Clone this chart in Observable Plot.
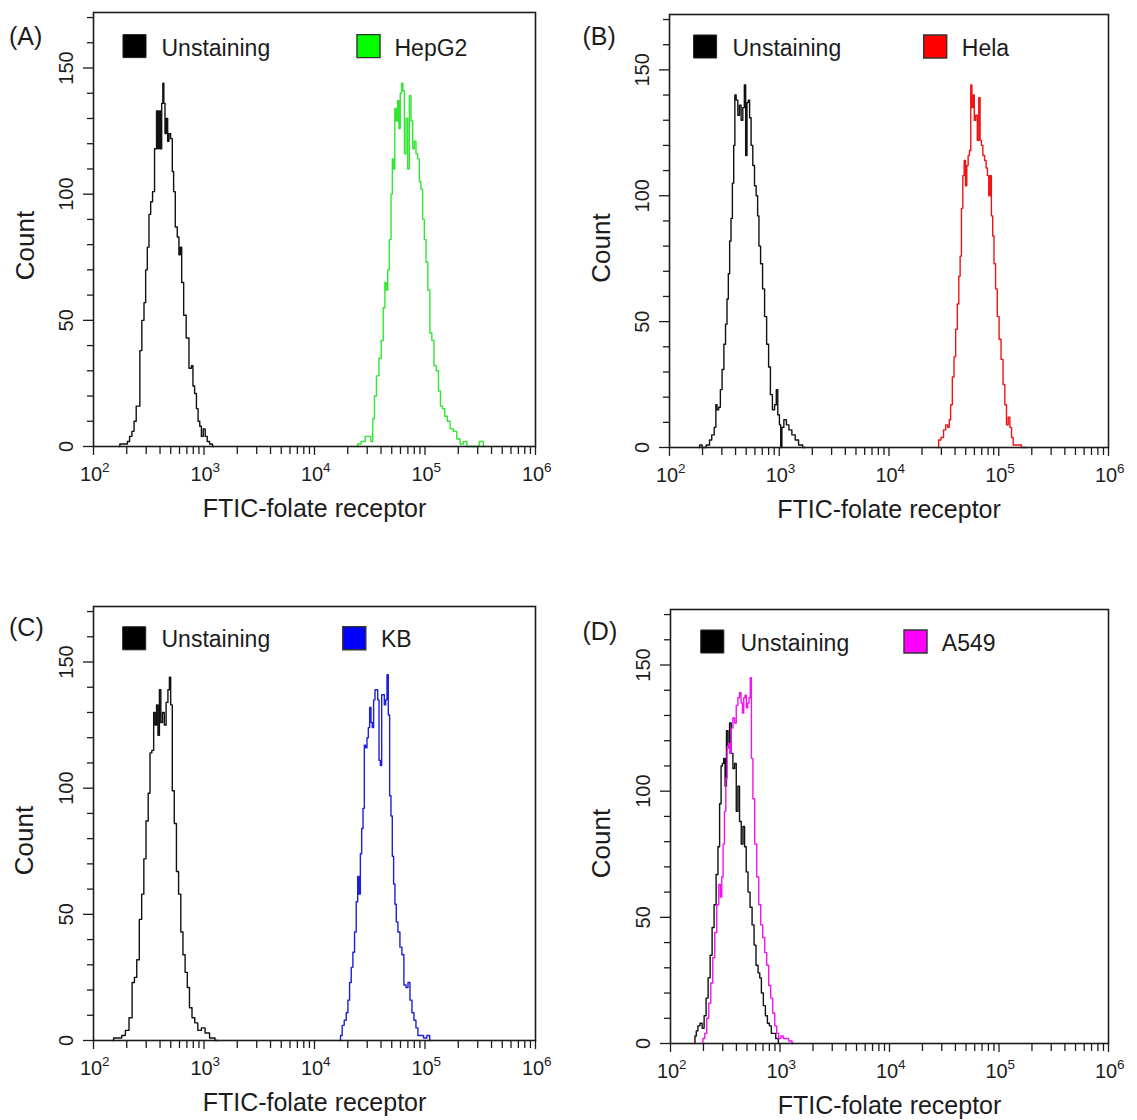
<!DOCTYPE html>
<html>
<head>
<meta charset="utf-8">
<script src="https://cdn.jsdelivr.net/npm/d3@7"></script>
<script src="https://cdn.jsdelivr.net/npm/@observablehq/plot@0.6"></script>
<style>
  html, body { margin: 0; padding: 0; background: #fff; }
  #fig { position: relative; width: 1137px; height: 1120px; overflow: hidden; background: #fff; }
  .panel { position: absolute; }
</style>
</head>
<body>
<div id="fig"></div>
<script>
// ---------- axis / tick values ----------
const xDecades = [1e2, 1e3, 1e4, 1e5, 1e6];
const xExponents = ["2", "3", "4", "5", "6"];
const xMinorMultipliers = [2, 3, 4, 5, 6, 7, 8, 9];
const yMajorTicks = [0, 50, 100, 150];
const yMinorTicks = [10, 20, 30, 40, 60, 70, 80, 90, 110, 120, 130, 140, 160, 170];
const yMax = 172;
const xTitle = "FTIC-folate receptor";
const yTitle = "Count";
const panelLabels = ["(A)", "(B)", "(C)", "(D)"];
const controlName = "Unstaining";
const cellNames = ["HepG2", "Hela", "KB", "A549"];

// ---------- histogram data: log10(fluorescence) and event count ----------
// (A) Unstaining
const unstainALog = [2.231,2.246,2.298,2.316,2.337,2.358,2.376,2.397,2.412,2.427,2.448,2.466,2.478,2.496,2.508,2.527,2.542,2.563,2.578,2.587,2.599,2.611,2.623,2.632,2.641,2.653,2.665,2.677,2.689,2.707,2.719,2.731,2.749,2.767,2.779,2.792,2.804,2.828,2.849,2.879,2.894,2.906,2.924,2.939,2.954,2.969,2.984,3.002,3.020,3.038,3.063,3.090];
const unstainACount = [0,1,1,2,4,6,10,16,16,38,50,57,70,79,92,97,101,118,133,118,133,118,136,144,136,124,130,121,124,122,109,101,87,83,76,79,65,52,43,31,32,24,21,15,10,8,4,7,4,2,1,0];
// (A) HepG2
const hepg2Log = [4.384,4.399,4.444,4.475,4.499,4.52,4.535,4.55,4.571,4.595,4.613,4.631,4.643,4.655,4.67,4.685,4.7,4.709,4.721,4.733,4.746,4.758,4.77,4.782,4.794,4.806,4.821,4.836,4.851,4.866,4.881,4.896,4.911,4.926,4.941,4.956,4.971,4.986,5.002,5.017,5.035,5.053,5.071,5.092,5.113,5.131,5.149,5.167,5.191,5.212,5.242,5.272,5.303,5.333,5.363,5.393,5.468,5.513,5.544];
const hepg2Count = [0,1,2,4,4,2,11,20,28,35,42,55,65,62,70,82,100,114,110,134,129,137,126,140,144,141,116,130,110,139,129,118,121,116,114,105,102,90,82,73,62,45,42,32,30,22,16,15,12,10,7,6,3,1,2,0,0,2,0];
// (B) Unstaining
const unstainBLog = [2.267,2.282,2.312,2.357,2.373,2.397,2.418,2.427,2.439,2.457,2.47,2.488,2.503,2.518,2.53,2.542,2.554,2.567,2.579,2.591,2.6,2.615,2.63,2.645,2.66,2.676,2.688,2.7,2.712,2.724,2.736,2.751,2.767,2.782,2.797,2.809,2.821,2.839,2.857,2.876,2.894,2.912,2.927,2.948,2.967,2.979,2.994,3.009,3.018,3.03,3.054,3.076,3.1,3.13,3.161,3.191,3.236];
const unstainBCount = [0,1,0,1,3,5,8,17,15,16,23,31,41,49,59,69,82,91,105,120,140,138,132,136,130,135,144,116,137,138,131,120,112,104,100,92,80,73,63,52,41,32,21,15,17,23,13,9,0,8,11,9,7,5,3,1,0];
// (B) Hela
const helaLog = [4.442,4.463,4.485,4.509,4.524,4.545,4.554,4.569,4.585,4.6,4.615,4.63,4.642,4.654,4.666,4.679,4.691,4.703,4.715,4.727,4.739,4.751,4.76,4.772,4.782,4.797,4.812,4.824,4.836,4.848,4.863,4.879,4.891,4.903,4.915,4.927,4.939,4.951,4.963,4.979,4.994,5.012,5.03,5.048,5.063,5.078,5.094,5.109,5.124,5.139,5.16,5.191,5.221,5.251];
const helaCount = [0,3,4,7,9,8,11,17,28,36,47,57,68,76,95,108,114,104,112,116,118,144,135,140,130,132,122,139,122,120,116,114,111,108,100,108,92,84,73,63,52,43,35,25,17,9,12,8,4,1,1,1,0,0];
// (C) Unstaining
const unstainCLog = [2.174,2.19,2.239,2.272,2.305,2.338,2.361,2.38,2.403,2.426,2.446,2.465,2.485,2.505,2.518,2.538,2.551,2.564,2.577,2.59,2.603,2.616,2.633,2.649,2.665,2.682,2.692,2.705,2.721,2.741,2.76,2.78,2.8,2.819,2.839,2.859,2.878,2.905,2.928,2.96,2.993,3.026,3.075,3.124];
const unstainCCount = [0,1,1,2,4,9,23,25,32,48,58,72,87,98,114,115,130,125,133,121,139,126,130,125,134,139,144,133,99,86,67,58,43,34,27,21,13,9,7,4,5,3,1,0];
// (C) KB
const kbLog = [4.228,4.243,4.258,4.28,4.295,4.31,4.325,4.34,4.355,4.37,4.385,4.397,4.409,4.421,4.433,4.445,4.457,4.469,4.481,4.493,4.505,4.517,4.529,4.541,4.554,4.566,4.578,4.59,4.602,4.614,4.626,4.638,4.65,4.662,4.674,4.686,4.698,4.71,4.722,4.734,4.746,4.764,4.782,4.8,4.818,4.837,4.855,4.873,4.891,4.909,4.927,4.945,4.972,5.002,5.032,5.053];
const kbCount = [0,2,6,8,11,16,23,29,35,43,55,65,58,74,84,92,117,116,120,124,132,126,124,135,139,139,135,111,109,137,137,133,135,145,129,97,89,73,62,54,47,43,37,34,22,21,23,16,11,8,5,2,2,1,2,0];
// (D) Unstaining
const unstainDLog = [2.219,2.228,2.243,2.258,2.28,2.298,2.316,2.334,2.353,2.371,2.389,2.407,2.426,2.441,2.456,2.468,2.48,2.492,2.505,2.517,2.532,2.547,2.562,2.578,2.593,2.608,2.623,2.638,2.654,2.669,2.684,2.699,2.717,2.736,2.754,2.772,2.79,2.809,2.821,2.839,2.857,2.876,2.894,2.912,2.93,2.949,2.973,2.997];
const unstainDCount = [0,3,5,7,8,6,11,18,26,35,46,55,67,78,95,110,111,113,102,124,118,127,115,109,111,92,102,88,79,86,78,68,60,54,47,39,31,28,26,20,15,11,8,7,4,4,2,0];
// (D) A549
const a549Log = [2.289,2.304,2.322,2.34,2.359,2.377,2.395,2.413,2.432,2.45,2.462,2.474,2.486,2.499,2.511,2.523,2.535,2.547,2.562,2.578,2.593,2.608,2.623,2.638,2.651,2.663,2.675,2.687,2.699,2.711,2.724,2.733,2.745,2.76,2.778,2.797,2.815,2.833,2.851,2.87,2.888,2.906,2.924,2.943,2.961,2.979,2.997,3.019,3.04,3.064,3.095,3.125];
const a549Count = [0,2,4,10,16,24,34,44,55,63,58,66,79,92,105,117,119,115,125,129,127,134,137,139,135,131,137,138,133,135,137,145,113,97,79,66,55,47,42,36,31,23,18,12,7,4,2,3,2,2,1,0];

// ---------- styling / layout (not data) ----------
const FONT = '"Liberation Sans", Arial, Helvetica, sans-serif';
const INK = "#1c1c1c";
const cellLine = ["#33e633", "#f01414", "#1f1fdc", "#f014f0"];
const cellSwatch = ["#00ff00", "#ff0000", "#0000ff", "#ff00ff"];

const layouts = [
  {left: 0,   top: 0,   W: 570, H: 530, mL: 93,  mR: 35, mT: 12, mB: 84,
   sq1: [41, 33.6], tx1: [68, 43], sq2: [275, 33.6], tx2: [301, 43], lab: [-84.5, 32], cnt: [-60, 16]},
  {left: 570, top: 0,   W: 567, H: 530, mL: 99,  mR: 29, mT: 14, mB: 83,
   sq1: [35.6, 32], tx1: [63, 41.3], sq2: [265.7, 32], tx2: [292.3, 41.3], lab: [-87, 30], cnt: [-60, 17]},
  {left: 0,   top: 590, W: 570, H: 530, mL: 93,  mR: 35, mT: 16, mB: 80,
   sq1: [40.7, 31.8], tx1: [68, 40.3], sq2: [260.8, 31.8], tx2: [287.4, 40.3], lab: [-84.5, 29.7], cnt: [-60.5, 17]},
  {left: 570, top: 590, W: 567, H: 530, mL: 100, mR: 29, mT: 19, mB: 77,
   sq1: [41.8, 32], tx1: [70, 41.4], sq2: [245, 32], tx2: [271.3, 41.4], lab: [-88, 30], cnt: [-60.5, 17]}
];

const controls = [[unstainALog, unstainACount], [unstainBLog, unstainBCount], [unstainCLog, unstainCCount], [unstainDLog, unstainDCount]];
const cells = [[hepg2Log, hepg2Count], [helaLog, helaCount], [kbLog, kbCount], [a549Log, a549Count]];

function rows(logs, counts) {
  const n = Math.min(logs.length, counts.length);
  const out = [];
  for (let i = 0; i < n; i++) out.push({x: Math.pow(10, logs[i]), y: counts[i]});
  return out;
}

const xMinorTicks = [];
for (const d of xDecades.slice(0, -1)) for (const m of xMinorMultipliers) xMinorTicks.push(d * m);
const xTickTable = xDecades.map((v, i) => ({v, exp: xExponents[i]}));

const fig = document.getElementById("fig");

layouts.forEach((L, p) => {
  const ctrl = rows(controls[p][0], controls[p][1]);
  const cell = rows(cells[p][0], cells[p][1]);
  const chart = Plot.plot({
    width: L.W, height: L.H,
    marginLeft: L.mL, marginRight: L.mR, marginTop: L.mT, marginBottom: L.mB,
    style: {fontFamily: FONT, fontSize: "20px", color: INK, background: "#fff", overflow: "visible"},
    x: {type: "log", domain: [1e2, 1e6]},
    y: {domain: [0, yMax]},
    marks: [
      // ticks
      Plot.axisY({ticks: yMinorTicks, tickSize: 6, tickFormat: () => "", label: null, strokeWidth: 1.3}),
      Plot.axisY({ticks: yMajorTicks, tickSize: 10, tickFormat: () => "", label: null, strokeWidth: 1.3}),
      Plot.axisX({ticks: xMinorTicks, tickSize: 8, tickFormat: () => "", label: null, strokeWidth: 1.3}),
      Plot.axisX({ticks: xDecades, tickSize: 9, tickFormat: () => "", label: null, strokeWidth: 1.3}),
      // y tick labels (rotated)
      Plot.text(yMajorTicks, {y: d => d, frameAnchor: "left", text: d => String(d), rotate: -90,
        dx: -21, textAnchor: "middle", lineAnchor: "bottom", fontSize: 20, fill: INK}),
      // x tick labels 10^n
      Plot.text(xTickTable, {x: "v", frameAnchor: "bottom", text: () => "10", dx: -2.5, dy: 34,
        lineAnchor: "bottom", fontSize: 20, fill: INK}),
      Plot.text(xTickTable, {x: "v", frameAnchor: "bottom", text: "exp", dx: 8.5, dy: 25.5,
        textAnchor: "start", lineAnchor: "bottom", fontSize: 13.5, fill: INK}),
      // axis titles
      Plot.text([xTitle], {frameAnchor: "bottom", text: d => d, dy: 70, lineAnchor: "bottom", fontSize: 25, fill: INK}),
      Plot.text([yTitle], {frameAnchor: "left", text: d => d, rotate: -90, dx: L.cnt[0], dy: L.cnt[1],
        textAnchor: "middle", lineAnchor: "bottom", fontSize: 26, fill: INK}),
      // panel label
      Plot.text([panelLabels[p]], {frameAnchor: "top-left", text: d => d, dx: L.lab[0], dy: L.lab[1],
        textAnchor: "start", lineAnchor: "bottom", fontSize: 25, fill: INK}),
      // histograms
      Plot.line(ctrl, {x: "x", y: "y", curve: "step", stroke: "#111", strokeWidth: 1.4}),
      Plot.line(cell, {x: "x", y: "y", curve: "step", stroke: cellLine[p], strokeWidth: 1.4}),
      // frame
      Plot.frame({stroke: INK, strokeWidth: 1.6}),
      // legend
      Plot.dot([controlName], {frameAnchor: "top-left", dx: L.sq1[0], dy: L.sq1[1], symbol: "square", r: 13,
        fill: "#000", stroke: "#222", strokeWidth: 1}),
      Plot.text([controlName], {frameAnchor: "top-left", text: d => d, dx: L.tx1[0], dy: L.tx1[1],
        textAnchor: "start", lineAnchor: "bottom", fontSize: 23, fill: INK}),
      Plot.dot([cellNames[p]], {frameAnchor: "top-left", dx: L.sq2[0], dy: L.sq2[1], symbol: "square", r: 13,
        fill: cellSwatch[p], stroke: "#333", strokeWidth: 1.4}),
      Plot.text([cellNames[p]], {frameAnchor: "top-left", text: d => d, dx: L.tx2[0], dy: L.tx2[1],
        textAnchor: "start", lineAnchor: "bottom", fontSize: 23, fill: INK})
    ]
  });
  const div = document.createElement("div");
  div.className = "panel";
  div.style.left = L.left + "px";
  div.style.top = L.top + "px";
  div.style.width = L.W + "px";
  div.style.height = L.H + "px";
  div.appendChild(chart);
  fig.appendChild(div);
});
</script>
</body>
</html>
